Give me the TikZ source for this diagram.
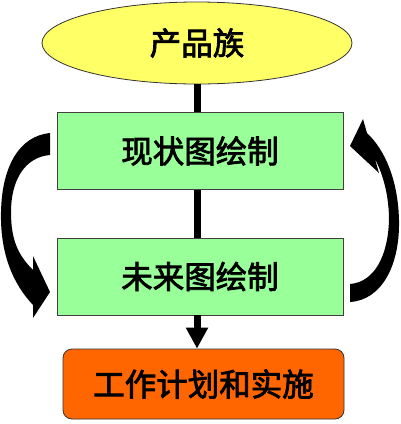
\documentclass[tikz,border=0pt]{standalone}
\usepackage{fontspec}
\setmainfont[FakeBold=2.5]{Noto Sans CJK SC}
\usetikzlibrary{shapes.geometric,arrows.meta}
\definecolor{ylw}{HTML}{FFFF66}
\definecolor{grn}{HTML}{99FF99}
\definecolor{org}{HTML}{FF6600}
\begin{document}
\begin{tikzpicture}[x=1pt,y=-1pt,
  lbl/.style={font=\fontsize{31.5}{32}\selectfont},
  oval/.style={ellipse,draw=black!80,line width=0.8pt,fill=ylw,minimum width=310pt,minimum height=82pt,inner sep=0pt,lbl},
  gbox/.style={rectangle,draw=black!75,line width=0.8pt,fill=grn,minimum width=286pt,minimum height=77pt,inner sep=0pt,lbl},
  obox/.style={rectangle,rounded corners=9pt,draw=black!80,line width=0.8pt,fill=org,minimum width=281pt,minimum height=70pt,inner sep=0pt,lbl},
  link/.style={line width=7pt,black},
  curved/.style={fill=black}]
\useasboundingbox (0,0) rectangle (400,424);
\node[oval] (e) at (197,43) {产品族};
\node[gbox] (b1) at (200,151) {现状图绘制};
\node[gbox] (b2) at (200,276.5) {未来图绘制};
\node[obox] (b3) at (203.5,384) {工作计划和实施};
\draw[link] (e.south) -- (e.south |- b1.north);
\draw[link] (e.south |- b1.south) -- (e.south |- b2.north);
\draw[link,-{Triangle[width=21pt,length=21pt]}] (e.south |- b2.south) -- (e.south |- b3.north);
% left curved arrow (b1 -> b2)
\fill[curved] (50,133) .. controls (20,136) and (2,165) .. (1,212)
  .. controls (0,255) and (14,285) .. (33,305) -- (33,318) -- (50,292) -- (33,256) -- (33,270)
  .. controls (18,255) and (11,240) .. (11,212)
  .. controls (11,180) and (25,157) .. (50,155) -- cycle;
% right curved arrow (b2 -> b1)
\fill[curved] (350,302) .. controls (382,300) and (400,265) .. (399,220)
  .. controls (398,180) and (385,150) .. (367,133) -- (363,119) -- (350,146) -- (379,173) -- (375,159)
  .. controls (384,176) and (389,198) .. (389,220)
  .. controls (388,255) and (375,282) .. (350,284) -- cycle;
\end{tikzpicture}
\end{document}
